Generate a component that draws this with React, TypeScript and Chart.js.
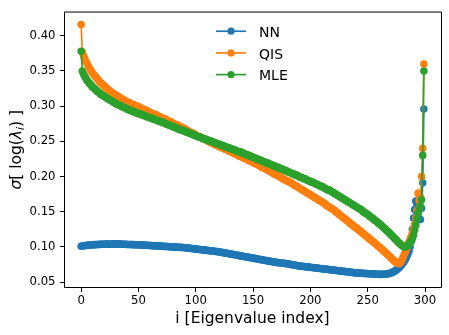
import React, { useEffect, useRef } from "react";
import { Chart, registerables } from "chart.js";

Chart.register(...registerables);

const seriesNames = ["NN", "QIS", "MLE"];
const seriesColors = ["#1f77b4", "#ff7f0e", "#2ca02c"];
const xTicks = [0, 50, 100, 150, 200, 250, 300];
const yTicks = [0.05, 0.1, 0.15, 0.2, 0.25, 0.3, 0.35, 0.4];
const xTitle = "i [Eigenvalue index]";
const xRange = [-14.95, 313.95];
const yRange = [0.0416, 0.4345];

const nn = [
  0.1010, 0.1013, 0.1016, 0.1018, 0.1020, 0.1022, 0.1024, 0.1026, 0.1027, 0.1028,
  0.1030, 0.1031, 0.1032, 0.1033, 0.1034, 0.1035, 0.1036, 0.1036, 0.1037, 0.1037,
  0.1038, 0.1038, 0.1039, 0.1039, 0.1039, 0.1040, 0.1040, 0.1040, 0.1040, 0.1040,
  0.1040, 0.1040, 0.1039, 0.1039, 0.1039, 0.1038, 0.1038, 0.1037, 0.1037, 0.1036,
  0.1035, 0.1035, 0.1034, 0.1034, 0.1033, 0.1033, 0.1032, 0.1031, 0.1031, 0.1030,
  0.1030, 0.1029, 0.1028, 0.1027, 0.1026, 0.1025, 0.1024, 0.1023, 0.1022, 0.1021,
  0.1020, 0.1019, 0.1018, 0.1017, 0.1016, 0.1015, 0.1014, 0.1013, 0.1012, 0.1011,
  0.1010, 0.1009, 0.1008, 0.1007, 0.1006, 0.1005, 0.1004, 0.1003, 0.1002, 0.1001,
  0.1000, 0.0999, 0.0998, 0.0997, 0.0996, 0.0995, 0.0994, 0.0993, 0.0992, 0.0991,
  0.0990, 0.0988, 0.0986, 0.0984, 0.0982, 0.0980, 0.0978, 0.0976, 0.0974, 0.0972,
  0.0970, 0.0968, 0.0966, 0.0964, 0.0962, 0.0960, 0.0958, 0.0956, 0.0954, 0.0952,
  0.0950, 0.0948, 0.0946, 0.0944, 0.0942, 0.0940, 0.0938, 0.0936, 0.0934, 0.0932,
  0.0930, 0.0927, 0.0924, 0.0921, 0.0918, 0.0915, 0.0912, 0.0909, 0.0906, 0.0903,
  0.0900, 0.0897, 0.0894, 0.0891, 0.0888, 0.0885, 0.0882, 0.0879, 0.0876, 0.0873,
  0.0870, 0.0867, 0.0864, 0.0861, 0.0858, 0.0855, 0.0852, 0.0849, 0.0846, 0.0843,
  0.0840, 0.0837, 0.0834, 0.0831, 0.0828, 0.0825, 0.0822, 0.0819, 0.0816, 0.0813,
  0.0810, 0.0807, 0.0804, 0.0801, 0.0798, 0.0795, 0.0792, 0.0789, 0.0786, 0.0783,
  0.0780, 0.0778, 0.0776, 0.0774, 0.0772, 0.0770, 0.0768, 0.0766, 0.0764, 0.0762,
  0.0760, 0.0757, 0.0754, 0.0751, 0.0748, 0.0745, 0.0742, 0.0739, 0.0736, 0.0733,
  0.0730, 0.0728, 0.0726, 0.0724, 0.0722, 0.0720, 0.0718, 0.0716, 0.0714, 0.0712,
  0.0710, 0.0708, 0.0706, 0.0704, 0.0702, 0.0700, 0.0698, 0.0696, 0.0694, 0.0692,
  0.0690, 0.0688, 0.0686, 0.0684, 0.0682, 0.0680, 0.0678, 0.0676, 0.0674, 0.0672,
  0.0670, 0.0668, 0.0666, 0.0664, 0.0662, 0.0660, 0.0658, 0.0656, 0.0654, 0.0652,
  0.0650, 0.0648, 0.0646, 0.0644, 0.0642, 0.0640, 0.0638, 0.0636, 0.0634, 0.0632,
  0.0630, 0.0629, 0.0628, 0.0627, 0.0626, 0.0625, 0.0624, 0.0623, 0.0622, 0.0621,
  0.0620, 0.0619, 0.0618, 0.0617, 0.0616, 0.0615, 0.0614, 0.0613, 0.0612, 0.0611,
  0.0610, 0.0610, 0.0610, 0.0610, 0.0611, 0.0612, 0.0614, 0.0616, 0.0619, 0.0623,
  0.0628, 0.0634, 0.0641, 0.0650, 0.0660, 0.0672, 0.0686, 0.0700, 0.0716, 0.0734,
  0.0754, 0.0776, 0.0800, 0.0828, 0.0860, 0.0896, 0.0940, 0.1000, 0.1080, 0.1250,
  0.1410, 0.1530, 0.1650, 0.1600, 0.1500, 0.1660, 0.1390, 0.1550, 0.1910, 0.2960,
];

const qis = [
  0.416, 0.377, 0.372, 0.368, 0.364, 0.361, 0.358, 0.355, 0.352, 0.349,
  0.347, 0.345, 0.343, 0.341, 0.339, 0.337, 0.335, 0.333, 0.332, 0.330,
  0.329, 0.327, 0.326, 0.324, 0.323, 0.322, 0.320, 0.319, 0.318, 0.317,
  0.316, 0.315, 0.314, 0.313, 0.312, 0.311, 0.310, 0.309, 0.308, 0.307,
  0.306, 0.305, 0.305, 0.304, 0.303, 0.302, 0.302, 0.301, 0.300, 0.300,
  0.299, 0.298, 0.297, 0.297, 0.296, 0.295, 0.294, 0.294, 0.293, 0.292,
  0.291, 0.290, 0.290, 0.289, 0.288, 0.288, 0.287, 0.286, 0.285, 0.285,
  0.284, 0.283, 0.282, 0.282, 0.281, 0.280, 0.279, 0.278, 0.278, 0.277,
  0.276, 0.275, 0.274, 0.274, 0.273, 0.272, 0.271, 0.270, 0.270, 0.269,
  0.268, 0.267, 0.266, 0.265, 0.264, 0.263, 0.262, 0.262, 0.261, 0.260,
  0.259, 0.258, 0.257, 0.257, 0.256, 0.255, 0.254, 0.253, 0.253, 0.252,
  0.251, 0.250, 0.249, 0.249, 0.248, 0.247, 0.246, 0.245, 0.245, 0.244,
  0.243, 0.242, 0.242, 0.241, 0.240, 0.239, 0.239, 0.238, 0.237, 0.236,
  0.236, 0.235, 0.234, 0.233, 0.233, 0.232, 0.231, 0.230, 0.229, 0.229,
  0.228, 0.227, 0.226, 0.226, 0.225, 0.224, 0.223, 0.222, 0.222, 0.221,
  0.220, 0.219, 0.218, 0.218, 0.217, 0.216, 0.215, 0.214, 0.213, 0.212,
  0.212, 0.211, 0.210, 0.209, 0.208, 0.207, 0.206, 0.205, 0.204, 0.203,
  0.203, 0.202, 0.201, 0.200, 0.199, 0.198, 0.197, 0.196, 0.195, 0.194,
  0.194, 0.193, 0.192, 0.191, 0.190, 0.189, 0.188, 0.187, 0.186, 0.185,
  0.184, 0.183, 0.182, 0.181, 0.180, 0.179, 0.178, 0.177, 0.176, 0.175,
  0.174, 0.173, 0.172, 0.171, 0.170, 0.169, 0.168, 0.167, 0.166, 0.165,
  0.164, 0.163, 0.162, 0.161, 0.159, 0.158, 0.157, 0.156, 0.155, 0.154,
  0.153, 0.152, 0.150, 0.149, 0.148, 0.146, 0.145, 0.144, 0.142, 0.141,
  0.140, 0.139, 0.137, 0.136, 0.135, 0.133, 0.132, 0.131, 0.129, 0.128,
  0.127, 0.126, 0.124, 0.123, 0.122, 0.120, 0.119, 0.118, 0.116, 0.115,
  0.114, 0.112, 0.111, 0.110, 0.108, 0.107, 0.106, 0.104, 0.103, 0.101,
  0.100, 0.099, 0.097, 0.096, 0.094, 0.093, 0.091, 0.090, 0.088, 0.087,
  0.085, 0.083, 0.082, 0.080, 0.079, 0.078, 0.077, 0.076, 0.077, 0.079,
  0.082, 0.086, 0.090, 0.094, 0.098, 0.103, 0.107, 0.111, 0.115, 0.120,
  0.126, 0.132, 0.141, 0.152, 0.176, 0.166, 0.171, 0.200, 0.240, 0.360,
];

const mle = [
  0.378, 0.350, 0.346, 0.343, 0.340, 0.337, 0.335, 0.333, 0.331, 0.329,
  0.327, 0.326, 0.324, 0.323, 0.321, 0.320, 0.319, 0.317, 0.316, 0.315,
  0.314, 0.313, 0.312, 0.311, 0.310, 0.309, 0.308, 0.307, 0.306, 0.305,
  0.304, 0.303, 0.302, 0.302, 0.301, 0.300, 0.299, 0.298, 0.298, 0.297,
  0.296, 0.295, 0.295, 0.294, 0.293, 0.293, 0.292, 0.291, 0.291, 0.290,
  0.290, 0.289, 0.288, 0.288, 0.287, 0.287, 0.286, 0.285, 0.285, 0.284,
  0.284, 0.283, 0.282, 0.282, 0.281, 0.281, 0.280, 0.279, 0.279, 0.278,
  0.278, 0.277, 0.276, 0.276, 0.275, 0.274, 0.274, 0.273, 0.272, 0.272,
  0.271, 0.270, 0.270, 0.269, 0.268, 0.268, 0.267, 0.266, 0.266, 0.265,
  0.265, 0.264, 0.263, 0.263, 0.262, 0.261, 0.261, 0.260, 0.259, 0.259,
  0.258, 0.257, 0.257, 0.256, 0.256, 0.255, 0.254, 0.254, 0.253, 0.253,
  0.252, 0.251, 0.251, 0.250, 0.250, 0.249, 0.248, 0.248, 0.247, 0.247,
  0.246, 0.245, 0.245, 0.244, 0.244, 0.243, 0.242, 0.242, 0.241, 0.241,
  0.240, 0.239, 0.239, 0.238, 0.238, 0.237, 0.236, 0.236, 0.235, 0.235,
  0.234, 0.233, 0.233, 0.232, 0.231, 0.231, 0.230, 0.229, 0.229, 0.228,
  0.227, 0.227, 0.226, 0.225, 0.225, 0.224, 0.223, 0.223, 0.222, 0.221,
  0.221, 0.220, 0.219, 0.219, 0.218, 0.217, 0.217, 0.216, 0.215, 0.215,
  0.214, 0.213, 0.213, 0.212, 0.211, 0.211, 0.210, 0.209, 0.209, 0.208,
  0.207, 0.206, 0.206, 0.205, 0.204, 0.204, 0.203, 0.202, 0.202, 0.201,
  0.200, 0.199, 0.199, 0.198, 0.197, 0.197, 0.196, 0.195, 0.194, 0.194,
  0.193, 0.192, 0.192, 0.191, 0.190, 0.189, 0.189, 0.188, 0.187, 0.186,
  0.186, 0.185, 0.184, 0.183, 0.182, 0.181, 0.181, 0.180, 0.179, 0.178,
  0.177, 0.176, 0.175, 0.174, 0.173, 0.172, 0.171, 0.170, 0.169, 0.168,
  0.167, 0.166, 0.165, 0.164, 0.163, 0.162, 0.161, 0.160, 0.159, 0.158,
  0.157, 0.156, 0.155, 0.154, 0.153, 0.152, 0.150, 0.149, 0.148, 0.147,
  0.146, 0.145, 0.143, 0.142, 0.141, 0.140, 0.138, 0.137, 0.136, 0.134,
  0.133, 0.132, 0.130, 0.129, 0.127, 0.126, 0.124, 0.123, 0.121, 0.120,
  0.118, 0.116, 0.115, 0.113, 0.111, 0.110, 0.108, 0.106, 0.105, 0.103,
  0.102, 0.101, 0.100, 0.100, 0.101, 0.102, 0.104, 0.106, 0.109, 0.112,
  0.117, 0.124, 0.131, 0.140, 0.148, 0.153, 0.158, 0.167, 0.230, 0.350,
];

const seriesValues = [nn, qis, mle];
const FONT = "'DejaVu Sans', 'Liberation Sans', sans-serif";

const framePlugin = {
  id: "frameAndLabels",
  afterDraw(chart: any) {
    const { ctx, chartArea } = chart;
    const { left, right, top, bottom } = chartArea;
    ctx.save();
    ctx.strokeStyle = "#000";
    ctx.lineWidth = 1;
    ctx.beginPath();
    ctx.moveTo(left + 0.5, top + 0.5);
    ctx.lineTo(right + 0.5, top + 0.5);
    ctx.lineTo(right + 0.5, bottom - 0.5);
    ctx.lineTo(left + 0.5, bottom - 0.5);
    ctx.closePath();
    ctx.stroke();

    const size = 15.5;
    const parts = [
      { t: "σ", font: `italic ${size}px ${FONT}`, dy: 0 },
      { t: "[ log(", font: `${size}px ${FONT}`, dy: 0 },
      { t: "λ", font: `italic ${size}px ${FONT}`, dy: 0 },
      { t: "i", font: `italic ${size * 0.7}px ${FONT}`, dy: 3 },
      { t: ") ]", font: `${size}px ${FONT}`, dy: 0 },
    ];
    let total = 0;
    const widths = parts.map((p) => {
      ctx.font = p.font;
      const w = ctx.measureText(p.t).width;
      total += w;
      return w;
    });
    const cy = (top + bottom) / 2;
    ctx.translate(20.5, cy);
    ctx.rotate(-Math.PI / 2);
    ctx.fillStyle = "#000";
    ctx.textBaseline = "alphabetic";
    ctx.textAlign = "left";
    let u = -total / 2;
    parts.forEach((p, k) => {
      ctx.font = p.font;
      ctx.fillText(p.t, u, p.dy);
      u += widths[k];
    });
    ctx.restore();

    ctx.save();
    const cx = (left + right) / 2;
    const rows = [top + 19.7, top + 41.4, top + 63.1];
    seriesNames.forEach((name, k) => {
      const y = rows[k];
      ctx.strokeStyle = seriesColors[k];
      ctx.lineWidth = 1.7;
      ctx.beginPath();
      ctx.moveTo(cx - 36.5, y);
      ctx.lineTo(cx - 6.5, y);
      ctx.stroke();
      ctx.fillStyle = seriesColors[k];
      ctx.beginPath();
      ctx.arc(cx - 21.5, y, 3.6, 0, Math.PI * 2);
      ctx.fill();
      ctx.fillStyle = "#000";
      ctx.font = `14px ${FONT}`;
      ctx.textAlign = "left";
      ctx.textBaseline = "alphabetic";
      ctx.fillText(name, cx + 6.5, y + 5.6);
    });
    ctx.restore();
  },
};

export default function App() {
  const ref = useRef<HTMLCanvasElement | null>(null);
  useEffect(() => {
    if (!ref.current) return;
    const datasets = seriesValues.map((vals, k) => ({
      label: seriesNames[k],
      data: vals.map((y, i) => ({ x: i, y })),
      borderColor: seriesColors[k],
      backgroundColor: seriesColors[k],
      pointBackgroundColor: seriesColors[k],
      pointBorderWidth: 0,
      pointRadius: 3.8,
      pointHoverRadius: 3.8,
      borderWidth: 1.7,
      tension: 0,
      fill: false,
      order: seriesValues.length - 1 - k,
    }));
    const chart = new Chart(ref.current, {
      type: "line",
      data: { datasets },
      options: {
        animation: false,
        responsive: false,
        events: [],
        layout: { padding: { left: 0, top: 7, right: 8, bottom: 0 } },
        plugins: { legend: { display: false }, tooltip: { enabled: false } },
        scales: {
          x: {
            type: "linear",
            min: xRange[0],
            max: xRange[1],
            bounds: "data",
            afterFit: (s: any) => {
              s.height = 47;
            },
            afterBuildTicks: (s: any) => {
              s.ticks = xTicks.map((v) => ({ value: v }));
            },
            grid: {
              display: true,
              drawOnChartArea: false,
              drawTicks: true,
              tickLength: 4,
              color: "#000",
              lineWidth: 1,
            },
            border: { display: false },
            ticks: {
              autoSkip: false,
              maxRotation: 0,
              padding: 2,
              color: "#000",
              font: { family: FONT, size: 11.7 },
              callback: (v: any) => String(v),
            },
            title: {
              display: true,
              text: xTitle,
              color: "#000",
              font: { family: FONT, size: 15.5 },
              padding: { top: 0, bottom: 7 },
            },
          },
          y: {
            type: "linear",
            min: yRange[0],
            max: yRange[1],
            bounds: "data",
            afterFit: (s: any) => {
              s.width = 64;
            },
            afterBuildTicks: (s: any) => {
              s.ticks = yTicks.map((v) => ({ value: v }));
            },
            grid: {
              display: true,
              drawOnChartArea: false,
              drawTicks: true,
              tickLength: 4,
              color: "#000",
              lineWidth: 1,
            },
            border: { display: false },
            ticks: {
              autoSkip: false,
              padding: 4.5,
              color: "#000",
              font: { family: FONT, size: 11.7 },
              callback: (v: any) => Number(v).toFixed(2),
            },
          },
        },
      },
      plugins: [framePlugin],
    });
    return () => chart.destroy();
  }, []);
  return (
    <div style={{ position: "absolute", left: 0, top: 0, width: 449, height: 335, background: "#fff" }}>
      <canvas ref={ref} width={449} height={335} style={{ display: "block" }} />
    </div>
  );
}
